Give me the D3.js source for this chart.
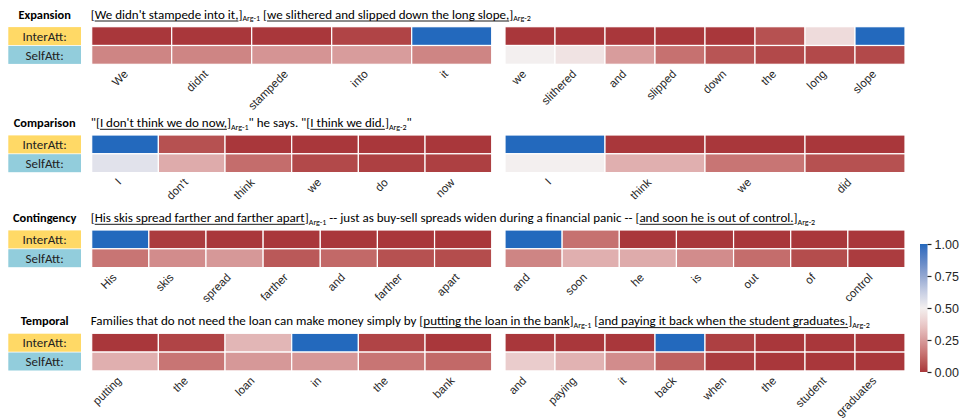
<!DOCTYPE html>
<html>
<head>
<meta charset="utf-8">
<script src="https://cdn.jsdelivr.net/npm/d3@7"></script>
<style>
  body { margin: 0; background: #fff; }
  svg { display: block; }
  .hdr text { font-family: Carlito, Lato, "Open Sans", sans-serif; fill: #000; white-space: pre; }
</style>
</head>
<body>
<svg id="chart" width="964" height="419"></svg>
<script>
// ---- data -------------------------------------------------------------
const relationTitles = ["Expansion", "Comparison", "Contingency", "Temporal"];
const rowLabels = ["InterAtt:", "SelfAtt:"];

// Example sentences; u = underlined span, sub = argument subscript
const expansionHeader = [
  { t: "[" }, { t: "We didn't stampede into it,", u: true }, { t: "]" }, { sub: "Arg-1" },
  { t: " [" }, { t: "we slithered and slipped down the long slope,", u: true }, { t: "]" }, { sub: "Arg-2" }
];
const comparisonHeader = [
  { t: "\"[" }, { t: "I don't think we do now,", u: true }, { t: "]" }, { sub: "Arg-1" },
  { t: "\" he says. \"[" }, { t: "I think we did.", u: true }, { t: "]" }, { sub: "Arg-2" }, { t: "\"" }
];
const contingencyHeader = [
  { t: "[" }, { t: "His skis spread farther and farther apart", u: true }, { t: "]" }, { sub: "Arg-1" },
  { t: " -- just as buy-sell spreads widen during a financial panic -- [" },
  { t: "and soon he is out of control.", u: true }, { t: "]" }, { sub: "Arg-2" }
];
const temporalHeader = [
  { t: "Families that do not need the loan can make money simply by [" },
  { t: "putting the loan in the bank", u: true }, { t: "]" }, { sub: "Arg-1" },
  { t: " [" }, { t: "and paying it back when the student graduates.", u: true }, { t: "]" }, { sub: "Arg-2" }
];

// Tokens of each argument
const expansionArg1 = ["We", "didnt", "stampede", "into", "it"];
const expansionArg2 = ["we", "slithered", "and", "slipped", "down", "the", "long", "slope"];
const comparisonArg1 = ["I", "don't", "think", "we", "do", "now"];
const comparisonArg2 = ["I", "think", "we", "did"];
const contingencyArg1 = ["His", "skis", "spread", "farther", "and", "farther", "apart"];
const contingencyArg2 = ["and", "soon", "he", "is", "out", "of", "control"];
const temporalArg1 = ["putting", "the", "loan", "in", "the", "bank"];
const temporalArg2 = ["and", "paying", "it", "back", "when", "the", "student", "graduates"];

// Attention weights (InterAtt / SelfAtt) per argument
const expansionInter1 = [0.00, 0.00, 0.00, 0.03, 1.00];
const expansionSelf1  = [0.19, 0.19, 0.23, 0.25, 0.19];
const expansionInter2 = [0.00, 0.00, 0.00, 0.00, 0.00, 0.06, 0.43, 1.00];
const expansionSelf2  = [0.50, 0.46, 0.25, 0.14, 0.07, 0.04, 0.04, 0.04];

const comparisonInter1 = [1.00, 0.06, 0.00, 0.00, 0.00, 0.00];
const comparisonSelf1  = [0.55, 0.29, 0.13, 0.04, 0.02, 0.02];
const comparisonInter2 = [1.00, 0.00, 0.00, 0.00];
const comparisonSelf2  = [0.50, 0.30, 0.15, 0.06];

const contingencyInter1 = [1.00, 0.01, 0.00, 0.00, 0.00, 0.00, 0.00];
const contingencySelf1  = [0.15, 0.21, 0.24, 0.08, 0.12, 0.06, 0.05];
const contingencyInter2 = [1.00, 0.14, 0.00, 0.00, 0.00, 0.00, 0.00];
const contingencySelf2  = [0.19, 0.30, 0.29, 0.21, 0.13, 0.05, 0.01];

const temporalInter1 = [0.00, 0.03, 0.32, 1.00, 0.03, 0.00];
const temporalSelf1  = [0.30, 0.15, 0.24, 0.24, 0.15, 0.12];
const temporalInter2 = [0.00, 0.00, 0.00, 1.00, 0.02, 0.00, 0.00, 0.00];
const temporalSelf2  = [0.38, 0.31, 0.21, 0.10, 0.01, 0.00, 0.00, 0.00];

const colorTicks = [0, 0.25, 0.5, 0.75, 1];

const panels = [
  { title: relationTitles[0], header: expansionHeader,
    args: [ { tokens: expansionArg1, inter: expansionInter1, self: expansionSelf1 },
            { tokens: expansionArg2, inter: expansionInter2, self: expansionSelf2 } ] },
  { title: relationTitles[1], header: comparisonHeader,
    args: [ { tokens: comparisonArg1, inter: comparisonInter1, self: comparisonSelf1 },
            { tokens: comparisonArg2, inter: comparisonInter2, self: comparisonSelf2 } ] },
  { title: relationTitles[2], header: contingencyHeader,
    args: [ { tokens: contingencyArg1, inter: contingencyInter1, self: contingencySelf1 },
            { tokens: contingencyArg2, inter: contingencyInter2, self: contingencySelf2 } ] },
  { title: relationTitles[3], header: temporalHeader,
    args: [ { tokens: temporalArg1, inter: temporalInter1, self: temporalSelf1 },
            { tokens: temporalArg2, inter: temporalInter2, self: temporalSelf2 } ] }
];

// ---- layout -----------------------------------------------------------
const panelTops = [26.7, 135, 230, 333.3];
const headerRight = [531, 413, 815, 869];   // right end of each sentence line
const argSpans = [[91.7, 491.7], [505, 905]];
const rowH = 18.8;
const labelBox = { x0: 8.3, x1: 81 };
const labelColors = ["#ffd966", "#92cddc"];

// diverging red-white-blue map (low = red, high = blue)
const color = d3.scaleSequential(
  d3.piecewise(d3.interpolateLab,
    ["#a9373b", "#c36b6a", "#d89c9c", "#eacbcb", "#f3efef", "#c7cfe4", "#93a7d1", "#5e86c6", "#2369bd"])
).domain([0, 1]);

const svg = d3.select("#chart");

// lays the sentence out piece by piece, underlining argument spans
function drawHeader(g, segs, x, y, right) {
  const layout = size => {
    g.selectAll("*").remove();
    let cx = x;
    segs.forEach(s => {
      const isSub = s.sub !== undefined;
      const t = g.append("text")
        .attr("x", cx)
        .attr("y", isSub ? y + 2.6 : y)
        .attr("font-size", isSub ? size * 0.62 : size)
        .text(isSub ? s.sub : s.t);
      const w = t.node().getComputedTextLength();
      if (s.u) {
        g.append("line")
          .attr("x1", cx).attr("x2", cx + w)
          .attr("y1", y + 2.3).attr("y2", y + 2.3)
          .attr("stroke", "#000").attr("stroke-width", 0.9);
      }
      cx += w;
    });
    return cx;
  };
  const base = 13;
  const end = layout(base);
  const size = base * (right - x) / (end - x);
  if (Math.abs(size - base) > 0.05) layout(size);
}

panels.forEach((p, pi) => {
  const top = panelTops[pi];
  const g = svg.append("g");

  // relation name
  g.append("text")
    .attr("x", (labelBox.x0 + labelBox.x1) / 2)
    .attr("y", top - 8)
    .attr("text-anchor", "middle")
    .attr("font-family", "Carlito, Lato, 'Open Sans', sans-serif")
    .attr("font-weight", "bold")
    .attr("font-size", 12.4)
    .text(p.title);

  // example sentence
  drawHeader(g.append("g").attr("class", "hdr"), p.header, argSpans[0][0] - 1, top - 8, headerRight[pi]);

  // row label boxes
  const yRow = d3.scaleBand().domain(rowLabels).range([top, top + 2 * rowH]);
  rowLabels.forEach((lab, i) => {
    g.append("rect")
      .attr("x", labelBox.x0).attr("y", yRow(lab) + 0.4)
      .attr("width", labelBox.x1 - labelBox.x0).attr("height", yRow.bandwidth() - 0.8)
      .attr("fill", labelColors[i]);
    g.append("text")
      .attr("x", (labelBox.x0 + labelBox.x1) / 2)
      .attr("y", yRow(lab) + yRow.bandwidth() / 2)
      .attr("dy", "0.36em")
      .attr("text-anchor", "middle")
      .attr("font-family", "Carlito, Lato, 'Open Sans', sans-serif")
      .attr("font-size", 13)
      .attr("fill", "#222")
      .text(lab);
  });

  // heatmaps for the two arguments
  p.args.forEach((a, ai) => {
    const idx = d3.range(a.tokens.length);
    const x = d3.scaleBand().domain(idx).range(argSpans[ai]);
    const cells = [];
    idx.forEach(i => {
      cells.push({ i, row: rowLabels[0], v: a.inter[i] });
      cells.push({ i, row: rowLabels[1], v: a.self[i] });
    });
    g.append("g").selectAll("rect").data(cells).join("rect")
      .attr("x", d => x(d.i))
      .attr("y", d => yRow(d.row))
      .attr("width", x.bandwidth())
      .attr("height", yRow.bandwidth())
      .attr("fill", d => color(d.v))
      .attr("stroke", "#fff")
      .attr("stroke-width", 1.2);

    const ax = g.append("g")
      .attr("transform", `translate(0,${top + 2 * rowH})`)
      .call(d3.axisBottom(x).tickSize(0).tickFormat(i => a.tokens[i]));
    ax.select(".domain").remove();
    ax.selectAll("text")
      .attr("x", 0).attr("y", 0).attr("dy", 0)
      .attr("text-anchor", "end")
      .attr("transform", "translate(-3,10.5) rotate(-45)")
      .attr("font-family", "'Liberation Sans', Arial, sans-serif")
      .attr("font-size", 11.5)
      .attr("fill", "#262626");
  });
});

// ---- colorbar -----------------------------------------------------------
const cb = { x: 920, w: 7.5, y0: 244, y1: 372 };
const defs = svg.append("defs");
const grad = defs.append("linearGradient").attr("id", "cbar")
  .attr("x1", 0).attr("y1", 1).attr("x2", 0).attr("y2", 0);
d3.range(0, 1.0001, 0.05).forEach(t => {
  grad.append("stop").attr("offset", t).attr("stop-color", color(t));
});
svg.append("rect")
  .attr("x", cb.x).attr("y", cb.y0)
  .attr("width", cb.w).attr("height", cb.y1 - cb.y0)
  .attr("fill", "url(#cbar)");
const cScale = d3.scaleLinear().domain([0, 1]).range([cb.y1, cb.y0]);
const cAxis = svg.append("g")
  .attr("transform", `translate(${cb.x + cb.w},0)`)
  .call(d3.axisRight(cScale).tickValues(colorTicks).tickFormat(d3.format(".2f")).tickSize(4).tickPadding(3));
cAxis.select(".domain").remove();
cAxis.selectAll("line").attr("stroke", "#262626").attr("stroke-width", 1.2);
cAxis.selectAll("text")
  .attr("font-family", "'Liberation Sans', Arial, sans-serif")
  .attr("font-size", 12.5)
  .attr("fill", "#262626");
</script>
</body>
</html>
